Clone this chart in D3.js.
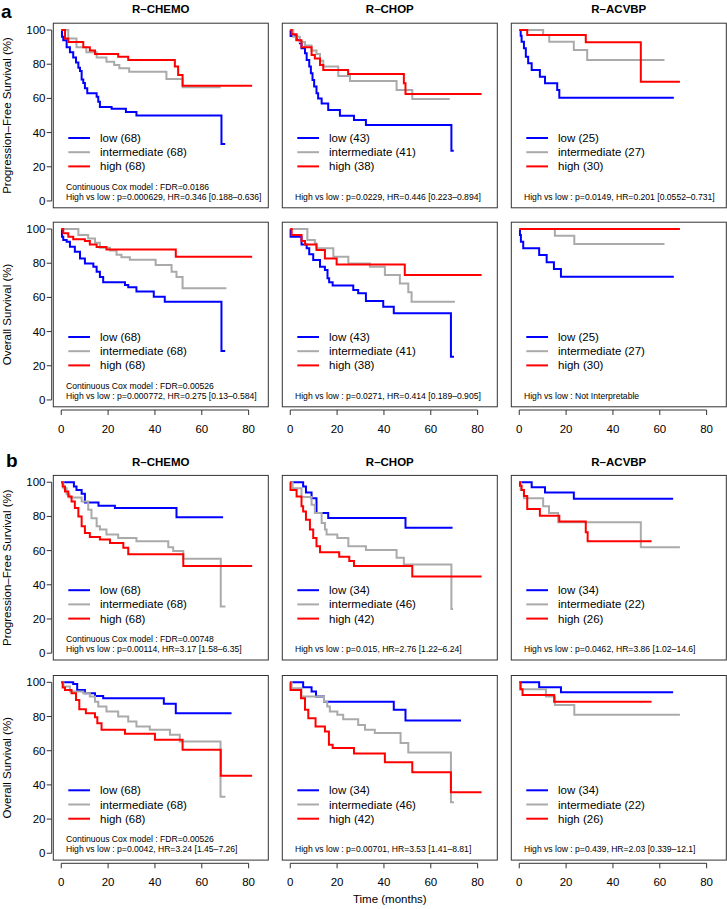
<!DOCTYPE html>
<html><head><meta charset="utf-8">
<script src="https://cdn.jsdelivr.net/npm/d3@7"></script>
<style>
body{margin:0;background:#fff}
svg{display:block}
text{font-family:"Liberation Sans",Arial,Helvetica,sans-serif;fill:#000}
</style>
</head><body>
<svg id="c" width="727" height="909"></svg>
<script>
// ---------------- DATA (time in months, survival in %) ----------------
const xTicks = [0, 20, 40, 60, 80];
const yTicks = [0, 20, 40, 60, 80, 100];
const treatments = ["R\u2013CHEMO", "R\u2013CHOP", "R\u2013ACVBP"];
const groups = ["low", "intermediate", "high"];
const groupColors = ["#0000ff", "#aaaaaa", "#ff0000"];
const rowLabels = ["Progression\u2013Free Survival (%)", "Overall Survival (%)", "Progression\u2013Free Survival (%)", "Overall Survival (%)"];
const sectionLabels = ["a", "b"];
const countsA = [[68, 68, 68], [43, 41, 38], [25, 27, 30]];
const countsB = [[68, 68, 68], [34, 46, 42], [34, 22, 26]];

// panel a, PFS
const aPfsChemoLow = [[0,100],[0.3,96],[0.85,94],[2.3,90],[3.7,87],[5.1,84],[6.3,81],[7.3,78],[8,76],[8.7,71],[9.4,69],[10.1,66],[11.1,63],[15.1,61],[15.8,58],[16.5,55],[21.5,54],[27.6,52],[32.1,50],[68.4,33.3],[70,33.3]];
const aPfsChemoInt = [[0,100],[3,95],[6.5,90],[10.7,87],[15.1,84],[19.3,81.5],[22.6,79.5],[24.8,77.6],[29,75.6],[44.9,71.3],[51.8,66.5],[68.1,66.5]];
const aPfsChemoHigh = [[0,100],[1.6,95],[3,93],[9.4,90],[12.2,88],[14.4,86],[24.3,84.4],[28.6,82.5],[48.5,78.6],[49.9,73.7],[51.8,67.4],[81.5,67.4]];
const aPfsChopLow = [[0,100],[0.14,96.5],[2.7,94.2],[4.1,92.2],[4.8,89.3],[6.3,86.4],[7,82.5],[8.1,78.6],[8.8,74.7],[9.5,70.8],[10.2,66.9],[11.2,63],[11.9,60],[13.4,57],[16.2,53.2],[21.2,49.9],[27.2,47.4],[32.3,44.4],[68.8,29.4],[69.8,29.4]];
const aPfsChopInt = [[0,100],[1.3,96],[4.1,93],[6.3,91],[9.1,88],[11.2,86],[12.7,82],[14.1,78.6],[20.5,73.1],[25.5,70.2],[45.4,64.9],[52.1,59.6],[68.1,59.6]];
const aPfsChopHigh = [[0,100],[0.6,97.6],[2.7,94],[4.8,90],[9.1,85.4],[10.5,83.4],[12.7,79.5],[14.1,76.6],[24.7,74.3],[48.5,68.8],[49.2,62.6],[81.7,62.6]];
const aPfsAcvbpLow = [[0,100],[0.6,96.7],[1,93.2],[2,89.3],[2.8,84.4],[3.8,80.5],[5.3,76.6],[8.8,72.7],[11,68.8],[16.2,64.9],[17.1,60.4],[66,60.4]];
const aPfsAcvbpInt = [[0,100],[10.2,97.1],[12.8,93.2],[23.3,88.3],[29,82.5],[62,82.5]];
const aPfsAcvbpHigh = [[0,100],[3.4,97.1],[28.4,92.8],[51.9,69.8],[68.6,69.8]];
// panel a, OS
const aOsChemoLow = [[0,100],[0.3,95.5],[0.85,93.6],[2.3,92.6],[3.7,89.7],[5.8,86.7],[8,82.8],[10.1,79.9],[13.7,78],[15.1,75],[16.5,72],[17.9,68.8],[27.2,67.3],[28.6,65.9],[32.1,63.4],[39.5,60.4],[44.2,57.5],[68.4,28.7],[70,28.7]];
const aOsChemoInt = [[0,100],[7.3,96.5],[11.5,94.5],[14.4,92],[16.5,89],[20.8,87.5],[23.6,85],[25.7,83.5],[29.3,82],[40.3,79],[47.1,75],[49.2,72],[51.8,65.3],[70.5,65.3]];
const aOsChemoHigh = [[0,100],[0.85,97.5],[3,95.5],[5.1,94],[10.1,93],[12.2,91],[15.1,89.5],[19.3,88],[48.9,83.8],[81.5,83.8]];
const aOsChopLow = [[0,100],[0.14,95.5],[4.8,91],[7,88.7],[8.1,85.2],[9.8,81.9],[12.7,78],[14.8,76],[15.9,71.2],[16.6,68.8],[18.1,66.9],[26.9,64.3],[29,62.4],[32.3,57.9],[39.7,54.6],[44.2,50.7],[68.6,25.3],[69.9,25.3]];
const aOsChopInt = [[0,100],[7.3,93.6],[10.5,91.6],[11.2,88.7],[18.4,83.8],[24.8,79.9],[34,78],[40.4,73.1],[46.8,68.2],[50.4,63],[51.8,57.5],[70.3,57.5]];
const aOsChopHigh = [[0,100],[0.6,96.5],[4.8,93],[6.3,91],[11.2,87.7],[14.8,82.8],[19.8,79.3],[48.9,73.1],[81.7,73.1]];
const aOsAcvbpLow = [[0,100],[0.3,96.5],[0.7,92.6],[1.7,88.7],[8.5,84.8],[11.7,80.5],[14.8,76.6],[17.8,72.1],[66,72.1]];
const aOsAcvbpInt = [[0,100],[15.2,96.1],[23.5,91.2],[62,91.2]];
const aOsAcvbpHigh = [[0,100],[68.6,100]];
// panel b, PFS
const bPfsChemoLow = [[0,100],[5.4,97.5],[6.5,95.5],[8.7,93.2],[10.1,88.2],[15.9,86.2],[22.9,84.9],[49.2,79.5],[69.1,79.5]];
const bPfsChemoInt = [[0,100],[0.9,96.5],[2.3,93],[3.5,91],[8.7,88.8],[11.5,83.9],[12.9,79],[15.1,74.2],[16.5,72.3],[19.3,69.4],[24.3,67.4],[32.1,65.5],[45.7,62],[47.8,59.7],[52.1,55.2],[68.1,27.3],[70.1,27.3]];
const bPfsChemoHigh = [[0,100],[0.6,97.5],[1.6,94.6],[3,91.7],[4.4,88.8],[5.8,84.9],[7.3,80],[8.7,74.2],[10.1,70.3],[12.2,68],[16.5,66.5],[20.8,64.5],[26.5,61.6],[28.6,57.8],[52.1,51],[81.5,51]];
const bPfsChopLow = [[0,100],[5.5,97.5],[6.7,94],[9.1,90.7],[11.2,82],[16.2,79.1],[49.2,73.3],[69.3,73.3]];
const bPfsChopInt = [[0,100],[1,96.5],[4.8,91.3],[9.1,86.8],[10.5,82],[13.4,76.2],[14.8,72.3],[15.5,69.4],[20.1,67.4],[24.8,62.6],[32.3,60.3],[45.4,55.8],[48.5,51.9],[68.8,25.8],[69.5,25.8]];
const bPfsChopHigh = [[0,100],[0.1,95.5],[2.7,91.7],[4.8,85.9],[5.5,82.9],[6.7,78.1],[8.4,72.3],[9.8,67.4],[11.2,62.6],[12.7,59.1],[20.9,56.4],[25.2,53.9],[27.2,51],[52.1,44.8],[81.7,44.8]];
const bPfsAcvbpLow = [[0,100],[5.3,97.1],[11,94],[23.3,90.3],[65.7,90.3]];
const bPfsAcvbpInt = [[0,100],[0.6,95.5],[2,90.7],[10.2,85.9],[12.7,82],[16.6,76.6],[51.9,62],[68.6,62]];
const bPfsAcvbpHigh = [[0,100],[0.3,98],[1,95.5],[2,92],[3.4,84.3],[8.8,80.4],[17.1,77.1],[28.4,70.7],[29.2,65.5],[56.5,65.5]];
// panel b, OS
const bOsChemoLow = [[0,100],[5.1,99],[6.8,95.5],[10.1,93.6],[14.4,92],[17.9,90.7],[43.8,87.4],[48.9,81.9],[72.7,81.9]];
const bOsChemoInt = [[0,100],[0.9,97.5],[3.7,94.6],[9.4,93.6],[12.2,91.7],[14.4,88.7],[15.8,85.8],[19.3,82.9],[24.3,80],[28.6,77.1],[32.1,74.2],[37.8,72.2],[46.4,69.3],[50.6,65.4],[68,33],[70.1,33]];
const bOsChemoHigh = [[0,100],[0.6,97],[1.6,95.5],[4.4,93.6],[6.3,89.7],[7.7,84.3],[10.5,81.9],[14.4,79.6],[15.4,76.1],[17.2,72.2],[27.2,69.9],[40,66.4],[51.8,60.6],[68.1,45.4],[81.5,45.4]];
const bOsChopLow = [[0,100],[5.5,97.1],[9.1,94.6],[11,91.7],[14.4,88.7],[44.2,83.9],[49.2,77.7],[72.9,77.7]];
const bOsChopInt = [[0,100],[0.6,96.5],[4.8,91.7],[14.4,88.7],[15.8,85.8],[16.9,82.9],[20.1,81],[22.6,78.4],[29,75.1],[31.9,72.2],[36.1,70.3],[47.1,64.5],[50.4,59],[68.6,29.9],[69.9,29.9]];
const bOsChopHigh = [[0,100],[0.1,95.5],[4.6,90.7],[6.3,83.9],[7.7,79],[10.8,74.2],[14.8,71.3],[16.5,63.5],[18.1,61.6],[27.2,58.3],[40.4,53.2],[52.1,47.4],[68.6,35.7],[81.7,35.7]];
const bOsAcvbpLow = [[0,100],[8.5,97.1],[17.8,94.2],[65.7,94.2]];
const bOsAcvbpInt = [[0,100],[0.3,95.9],[11.4,91.7],[15.2,86.8],[23.5,81],[68.6,81]];
const bOsAcvbpHigh = [[0,100],[0.6,95.9],[1.4,92.6],[14.9,88.7],[56.5,88.7]];

// statistics annotation per panel (row-major)
const statTexts = [
  [["Continuous Cox model : FDR=0.0186", "High vs low : p=0.000629, HR=0.346 [0.188\u20130.636]"], ["High vs low : p=0.0229, HR=0.446 [0.223\u20130.894]"], ["High vs low : p=0.0149, HR=0.201 [0.0552\u20130.731]"]],
  [["Continuous Cox model : FDR=0.00526", "High vs low : p=0.000772, HR=0.275 [0.13\u20130.584]"], ["High vs low : p=0.0271, HR=0.414 [0.189\u20130.905]"], ["High vs low : Not Interpretable"]],
  [["Continuous Cox model : FDR=0.00748", "High vs low : p=0.00114, HR=3.17 [1.58\u20136.35]"], ["High vs low : p=0.015, HR=2.76 [1.22\u20136.24]"], ["High vs low : p=0.0462, HR=3.86 [1.02\u201314.6]"]],
  [["Continuous Cox model : FDR=0.00526", "High vs low : p=0.0042, HR=3.24 [1.45\u20137.26]"], ["High vs low : p=0.00701, HR=3.53 [1.41\u20138.81]"], ["High vs low : p=0.439, HR=2.03 [0.339\u201312.1]"]]
];

const curves = [
  [[aPfsChemoLow, aPfsChemoInt, aPfsChemoHigh], [aPfsChopLow, aPfsChopInt, aPfsChopHigh], [aPfsAcvbpLow, aPfsAcvbpInt, aPfsAcvbpHigh]],
  [[aOsChemoLow, aOsChemoInt, aOsChemoHigh], [aOsChopLow, aOsChopInt, aOsChopHigh], [aOsAcvbpLow, aOsAcvbpInt, aOsAcvbpHigh]],
  [[bPfsChemoLow, bPfsChemoInt, bPfsChemoHigh], [bPfsChopLow, bPfsChopInt, bPfsChopHigh], [bPfsAcvbpLow, bPfsAcvbpInt, bPfsAcvbpHigh]],
  [[bOsChemoLow, bOsChemoInt, bOsChemoHigh], [bOsChopLow, bOsChopInt, bOsChopHigh], [bOsAcvbpLow, bOsAcvbpInt, bOsAcvbpHigh]]
];
const rowCounts = [countsA, countsA, countsB, countsB];

// ---------------- LAYOUT ----------------
const svg = d3.select("#c");
const colLeft = [53.3, 282.3, 511.3];
const rowTop = [23.2, 222.2, 475.4, 675.5];
const boxW = 215, boxH = 184.6;
const x = d3.scaleLinear().domain([-3.4, 88.4]).range([0, boxW]);
const y = d3.scaleLinear().domain([-4, 104]).range([boxH, 0]);
const line = d3.line().x(d => x(d[0])).y(d => y(d[1])).curve(d3.curveStepAfter);

// section letters
svg.append("text").attr("x", 1).attr("y", 17.5).attr("font-size", 19).attr("font-weight", "bold").text(sectionLabels[0]);
svg.append("text").attr("x", 6).attr("y", 467).attr("font-size", 19).attr("font-weight", "bold").text(sectionLabels[1]);

for (let r = 0; r < 4; r++) {
  for (let c = 0; c < 3; c++) {
    const g = svg.append("g").attr("transform", `translate(${colLeft[c]},${rowTop[r]})`);
    if (r === 0 || r === 2) {
      g.append("text").attr("x", boxW / 2).attr("y", r === 0 ? -10.5 : -9)
        .attr("text-anchor", "middle").attr("font-size", 11.5).attr("font-weight", "bold")
        .text(treatments[c]);
    }
    curves[r][c].forEach((d, i) => {
      g.append("path").attr("d", line(d)).attr("fill", "none")
        .attr("stroke", groupColors[i]).attr("stroke-width", 2);
    });
    g.append("rect").attr("x", 0).attr("y", 0).attr("width", boxW).attr("height", boxH)
      .attr("fill", "none").attr("stroke", "#333").attr("stroke-width", 1);
    const counts = rowCounts[r][c];
    groups.forEach((name, i) => {
      const ly = 114.8 + i * 14.2;
      g.append("line").attr("x1", 15).attr("x2", 36.7).attr("y1", ly).attr("y2", ly)
        .attr("stroke", groupColors[i]).attr("stroke-width", 2);
      g.append("text").attr("x", 46.7).attr("y", ly + 4).attr("font-size", 11.5)
        .text(`${name} (${counts[i]})`);
    });
    const st = statTexts[r][c];
    st.forEach((t, i) => {
      const by = 176.6 - (st.length - 1 - i) * 10;
      g.append("text").attr("x", 12.7).attr("y", by).attr("font-size", 8.6).text(t);
    });
    if (c === 0) {
      const ya = g.append("g");
      ya.append("line").attr("x1", -1.6).attr("x2", -1.6).attr("y1", y(0)).attr("y2", y(100)).attr("stroke", "#333");
      yTicks.forEach(v => {
        ya.append("line").attr("x1", -6.6).attr("x2", -1.6).attr("y1", y(v)).attr("y2", y(v)).attr("stroke", "#333");
        ya.append("text").attr("x", -7.8).attr("y", y(v) + 4).attr("text-anchor", "end").attr("font-size", 11.5).text(v);
      });
      g.append("text").attr("transform", `translate(${11 - colLeft[0]},${boxH / 2}) rotate(-90)`)
        .attr("text-anchor", "middle").attr("font-size", 11.5).text(rowLabels[r]);
    }
    if (r === 1 || r === 3) {
      const xa = g.append("g");
      xa.append("line").attr("x1", x(0)).attr("x2", x(80)).attr("y1", boxH + 3.2).attr("y2", boxH + 3.2).attr("stroke", "#333");
      xTicks.forEach(v => {
        xa.append("line").attr("x1", x(v)).attr("x2", x(v)).attr("y1", boxH + 3.2).attr("y2", boxH + 8.2).attr("stroke", "#333");
        xa.append("text").attr("x", x(v)).attr("y", boxH + 25.8).attr("text-anchor", "middle").attr("font-size", 11.5).text(v);
      });
    }
  }
}
svg.append("text").attr("x", colLeft[1] + boxW / 2).attr("y", 903).attr("text-anchor", "middle")
  .attr("font-size", 11.5).text("Time (months)");
</script>
</body></html>
